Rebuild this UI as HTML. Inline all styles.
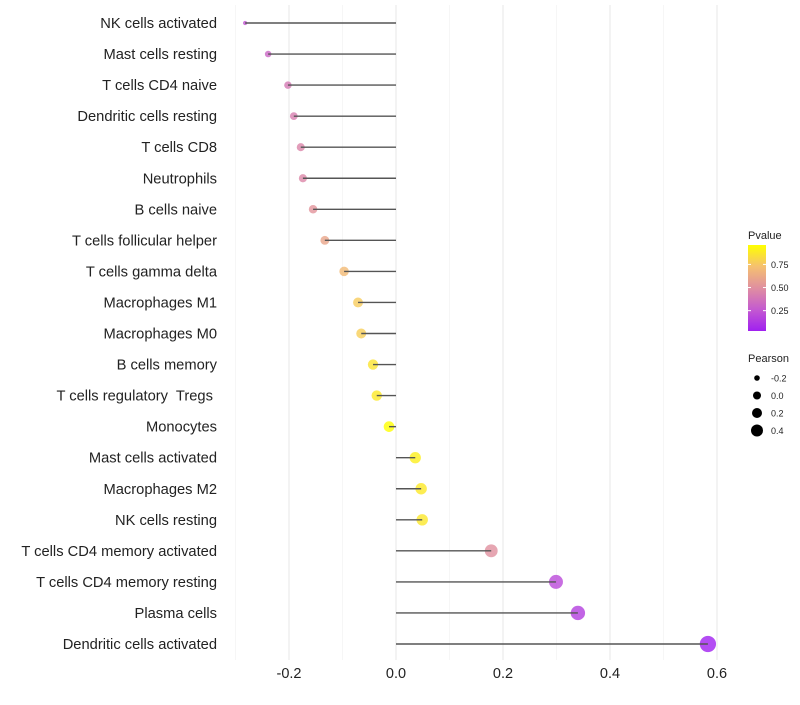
<!DOCTYPE html>
<html><head><meta charset="utf-8"><style>
body{margin:0;background:#fff;font-family:"Liberation Sans",sans-serif}
svg text{font-family:"Liberation Sans",sans-serif;white-space:pre}
</style></head><body>
<svg id="c" width="800" height="700">
<g id="grid"></g>
<g id="marks"></g>
<g id="ylab"></g>
<g id="xlab"></g>
<g id="legend"></g>
</svg>
<script>
const categories=["NK cells activated","Mast cells resting","T cells CD4 naive","Dendritic cells resting","T cells CD8","Neutrophils","B cells naive","T cells follicular helper","T cells gamma delta","Macrophages M1","Macrophages M0","B cells memory","T cells regulatory  Tregs ","Monocytes","Mast cells activated","Macrophages M2","NK cells resting","T cells CD4 memory activated","T cells CD4 memory resting","Plasma cells","Dendritic cells activated"];
const pearson=[-0.282,-0.239,-0.202,-0.191,-0.178,-0.174,-0.155,-0.133,-0.097,-0.071,-0.065,-0.043,-0.036,-0.013,0.036,0.047,0.049,0.178,0.299,0.340,0.583];
const pvalue=[0.25,0.32,0.40,0.42,0.45,0.46,0.52,0.60,0.70,0.77,0.78,0.86,0.88,0.96,0.90,0.88,0.87,0.50,0.20,0.15,0.03];
const xTicks=[-0.2,0.0,0.2,0.4,0.6];
const xMinor=[-0.3,-0.1,0.1,0.3,0.5];
const pTicks=[0.25,0.50,0.75];
const sizeTicks=[-0.2,0.0,0.2,0.4];
const NS="http://www.w3.org/2000/svg";
const x=v=>396+v*535;
const y=i=>23+i*31.05;
const rad=v=>1.8+Math.sqrt(Math.max(0,v+0.285))*6.8;
const pMin=0.03,pMax=0.96;
const stops=[[0,[160,32,240]],[0.25,[196,90,208]],[0.5,[224,143,160]],[0.75,[245,192,112]],[1,[255,255,0]]];
function col(p){let t=Math.min(1,Math.max(0,(p-pMin)/(pMax-pMin)));for(let k=1;k<stops.length;k++){if(t<=stops[k][0]){const a=stops[k-1],b=stops[k],f=(t-a[0])/(b[0]-a[0]);return `rgb(${a[1].map((c,j)=>Math.round(c+(b[1][j]-c)*f)).join(',')})`;}}return 'rgb(255,255,0)';}
function mk(tag,attrs,parent){const e=document.createElementNS(NS,tag);for(const k in attrs)e.setAttribute(k,attrs[k]);parent.appendChild(e);return e;}
const G=document.getElementById('grid'),M=document.getElementById('marks'),YL=document.getElementById('ylab'),XL=document.getElementById('xlab'),L=document.getElementById('legend');
xMinor.forEach(v=>{const l=mk('line',{x1:x(v),x2:x(v),y1:5,y2:660,stroke:'#f2f2f2','stroke-width':0.7},G);

});
xTicks.forEach(v=>{const l=mk('line',{x1:x(v),x2:x(v),y1:5,y2:660,stroke:'#ebebeb','stroke-width':1.2},G);


const t=mk('text',{x:x(v),y:678,'text-anchor':'middle','font-size':14.5,fill:'#222'},XL);t.textContent=v.toFixed(1);

});
categories.forEach((c,i)=>{const v=pearson[i];
const d=mk('circle',{cx:x(v),cy:y(i),r:rad(v),fill:col(pvalue[i]),'fill-opacity':0.8},M);


const l=mk('line',{x1:x(0),x2:x(v),y1:y(i),y2:y(i),stroke:'#555','stroke-width':1.4},M);


const t=mk('text',{x:217,y:y(i)+5,'text-anchor':'end','font-size':14.7,fill:'#222','xml:space':'preserve'},YL);t.textContent=c;

});
let t=mk('text',{x:748,y:239,'font-size':11,fill:'#222'},L);t.textContent='Pvalue';


const defs=mk('defs',{},L);const lg=mk('linearGradient',{id:'pg',x1:0,y1:1,x2:0,y2:0},defs);
stops.forEach(s=>mk('stop',{offset:s[0],'stop-color':`rgb(${s[1].join(',')})`},lg));
const bar=mk('rect',{x:748,y:245,width:18,height:86,fill:'url(#pg)'},L);


const py=p=>331-(p-pMin)/(pMax-pMin)*86;
pTicks.forEach(p=>{mk('line',{x1:748,x2:751,y1:py(p),y2:py(p),stroke:'#fff'},L);mk('line',{x1:763,x2:766,y1:py(p),y2:py(p),stroke:'#fff'},L);
const tt=mk('text',{x:771,y:py(p)+3.5,'font-size':9,fill:'#222'},L);tt.textContent=p.toFixed(2);

});
t=mk('text',{x:748,y:362,'font-size':11,fill:'#222'},L);t.textContent='Pearson';


const legR=[2.8,4.0,5.0,6.0];
sizeTicks.forEach((s,k)=>{const cy=378+k*17.5;const c=mk('circle',{cx:757,cy:cy,r:legR[k],fill:'#000'},L);


const tt=mk('text',{x:771,y:cy+3.5,'font-size':9,fill:'#222'},L);tt.textContent=s.toFixed(1);

});
</script>
</body></html>
